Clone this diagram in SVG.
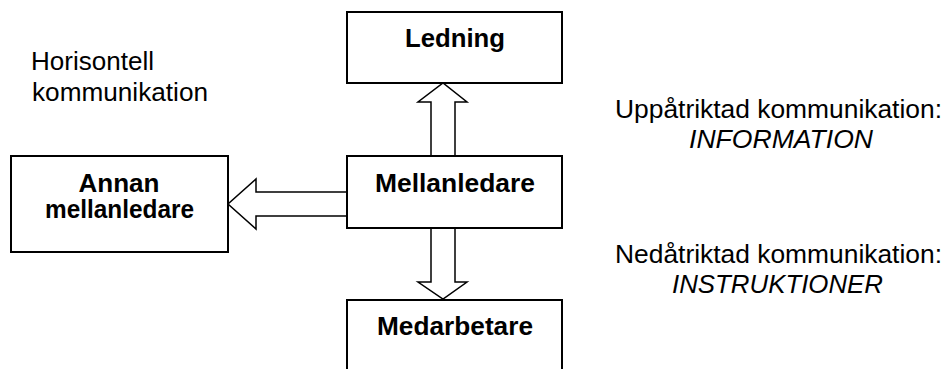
<svg xmlns="http://www.w3.org/2000/svg" width="945" height="369" viewBox="0 0 945 369">
<style>
.box{fill:#fff;stroke:#000;stroke-width:2}
.arr{fill:#fff;stroke:#000;stroke-width:1.5;stroke-linejoin:miter}
.b{font-family:"Liberation Sans",Arial,sans-serif;font-weight:bold;font-size:25px;fill:#000;text-anchor:middle}
.r{font-family:"Liberation Sans",Arial,sans-serif;font-size:25px;fill:#000}
.i{font-family:"Liberation Sans",Arial,sans-serif;font-size:25px;font-style:italic;fill:#000}
</style>
<rect width="945" height="369" fill="#fff"/>
<g id="connectors">
<polygon class="arr" points="431,156 431,102 418,102 443,83 467,102 455,102 455,156"/>
<polygon class="arr" points="431,228 431,282 418,282 443,299 467,282 455,282 455,228"/>
<polygon class="arr" points="347,192 256,192 256,179 228,204 256,229 256,216 347,216"/>
</g>
<g id="ledning">
<rect class="box" x="347" y="12" width="215" height="71"/>
<text class="b" x="455" y="47" textLength="100" lengthAdjust="spacingAndGlyphs">Ledning</text>
</g>
<g id="mellanledare">
<rect class="box" x="347" y="156" width="215" height="72"/>
<text class="b" x="455" y="192" textLength="160" lengthAdjust="spacingAndGlyphs">Mellanledare</text>
</g>
<g id="medarbetare">
<rect class="box" x="347" y="300" width="215" height="80"/>
<text class="b" x="455" y="335" textLength="156" lengthAdjust="spacingAndGlyphs">Medarbetare</text>
</g>
<g id="annan">
<rect class="box" x="11" y="156" width="217" height="96"/>
<text class="b" x="119" y="192" textLength="81" lengthAdjust="spacingAndGlyphs">Annan</text>
<text class="b" x="119.5" y="218" textLength="149" lengthAdjust="spacingAndGlyphs">mellanledare</text>
</g>
<g id="labels">
<text class="r" x="31" y="70" textLength="123" lengthAdjust="spacingAndGlyphs">Horisontell</text>
<text class="r" x="32" y="101" textLength="176" lengthAdjust="spacingAndGlyphs">kommunikation</text>
<text class="r" x="615" y="118" textLength="327" lengthAdjust="spacingAndGlyphs">Uppåtriktad kommunikation:</text>
<text class="i" x="689" y="148" textLength="184" lengthAdjust="spacingAndGlyphs">INFORMATION</text>
<text class="r" x="615" y="263" textLength="327" lengthAdjust="spacingAndGlyphs">Nedåtriktad kommunikation:</text>
<text class="i" x="672" y="293" textLength="211" lengthAdjust="spacingAndGlyphs">INSTRUKTIONER</text>
</g>
</svg>
